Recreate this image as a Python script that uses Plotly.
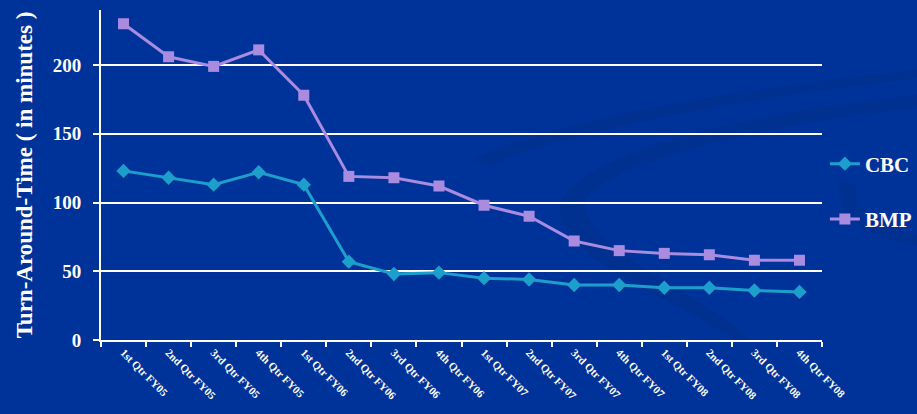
import plotly.graph_objects as go

categories = ["1st Qtr FY05", "2nd Qtr FY05", "3rd Qtr FY05", "4th Qtr FY05",
              "1st Qtr FY06", "2nd Qtr FY06", "3rd Qtr FY06", "4th Qtr FY06",
              "1st Qtr FY07", "2nd Qtr FY07", "3rd Qtr FY07", "4th Qtr FY07",
              "1st Qtr FY08", "2nd Qtr FY08", "3rd Qtr FY08", "4th Qtr FY08"]
cbc = [123, 118, 113, 122, 113, 57, 48, 49, 45, 44, 40, 40, 38, 38, 36, 35]
bmp = [230, 206, 199, 211, 178, 119, 118, 112, 98, 90, 72, 65, 63, 62, 58, 58]

BG = "#003399"
SWOOSH = "#003090"
font_family = "Liberation Serif"

fig = go.Figure()
fig.add_trace(go.Scatter(
    x=categories, y=cbc, name="<b>CBC</b>", mode="lines+markers",
    line=dict(color="#1C9FCB", width=3),
    marker=dict(symbol="diamond", size=11, color="#1C9FCB"),
    legendgroup="a"))
fig.add_trace(go.Scatter(
    x=categories, y=bmp, name="<b>BMP</b>", mode="lines+markers",
    line=dict(color="#A98BE0", width=3),
    marker=dict(symbol="square", size=11, color="#A98BE0"),
    legendgroup="b"))

# faint decorative background swooshes (paper coordinates, drawn below data)
def px(xp, yp):
    return (xp - 101) / 721, (340 - yp) / 330

def path(points):
    s = ""
    for cmd, pts in points:
        coords = " ".join("%.4f,%.4f" % px(a, b) for a, b in pts)
        s += cmd + " " + coords + " "
    return s

swoosh1 = path([("M", [(560, 205)]),
                ("C", [(580, 150), (760, 110), (917, 95)]),
                ("L", [(917, 108)]),
                ("C", [(780, 122), (610, 160), (585, 200)]),
                ("C", [(580, 250), (700, 290), (750, 340)]),
                ("L", [(735, 340)]),
                ("C", [(680, 300), (555, 260), (560, 205)]),
                ("Z", [])])
swoosh2 = path([("M", [(470, 160)]),
                ("C", [(560, 120), (720, 90), (917, 70)]),
                ("L", [(917, 78)]),
                ("C", [(740, 100), (590, 125), (490, 165)]),
                ("Z", [])])
swoosh3 = path([("M", [(840, 180)]),
                ("C", [(830, 220), (880, 240), (917, 245)]),
                ("L", [(917, 235)]),
                ("C", [(880, 228), (850, 212), (856, 185)]),
                ("Z", [])])
shapes = []
for p in (swoosh1, swoosh2, swoosh3):
    shapes.append(dict(type="path", path=p, xref="paper", yref="paper",
                       fillcolor=SWOOSH, line=dict(width=0), layer="below"))

fig.update_layout(
    width=917, height=414,
    margin=dict(l=101, r=95, t=10, b=74, autoexpand=False),
    paper_bgcolor=BG, plot_bgcolor="rgba(0,0,0,0)",
    shapes=shapes,
    font=dict(family=font_family, color="white"),
    legend=dict(x=1.004, y=0.45, xanchor="left", yanchor="middle",
                font=dict(size=21, color="white", family=font_family),
                itemwidth=30, tracegroupgap=25, bgcolor="rgba(0,0,0,0)"),
    xaxis=dict(
        type="category", tickson="boundaries", ticks="outside", ticklen=5,
        tickcolor="white", tickwidth=1.5, tickangle=45, automargin=False,
        tickfont=dict(size=11, color="white", family=font_family, weight="bold"),
        showline=True, linecolor="white", linewidth=2, showgrid=False,
        range=[-0.5, 15.5]),
    yaxis=dict(
        range=[0, 240], dtick=50, tick0=0, ticks="outside", ticklen=6,
        tickcolor="white", tickwidth=1.5, ticklabelstandoff=8, automargin=False,
        tickfont=dict(size=19, color="white", family=font_family, weight="bold"),
        showline=True, linecolor="white", linewidth=2,
        showgrid=True, gridcolor="white", gridwidth=2,
        zeroline=False,
        title=dict(text="<b>Turn-Around-Time ( in minutes )</b>",
                   font=dict(size=23, color="white", family=font_family),
                   standoff=14)),
)

fig.write_html("out.html")
